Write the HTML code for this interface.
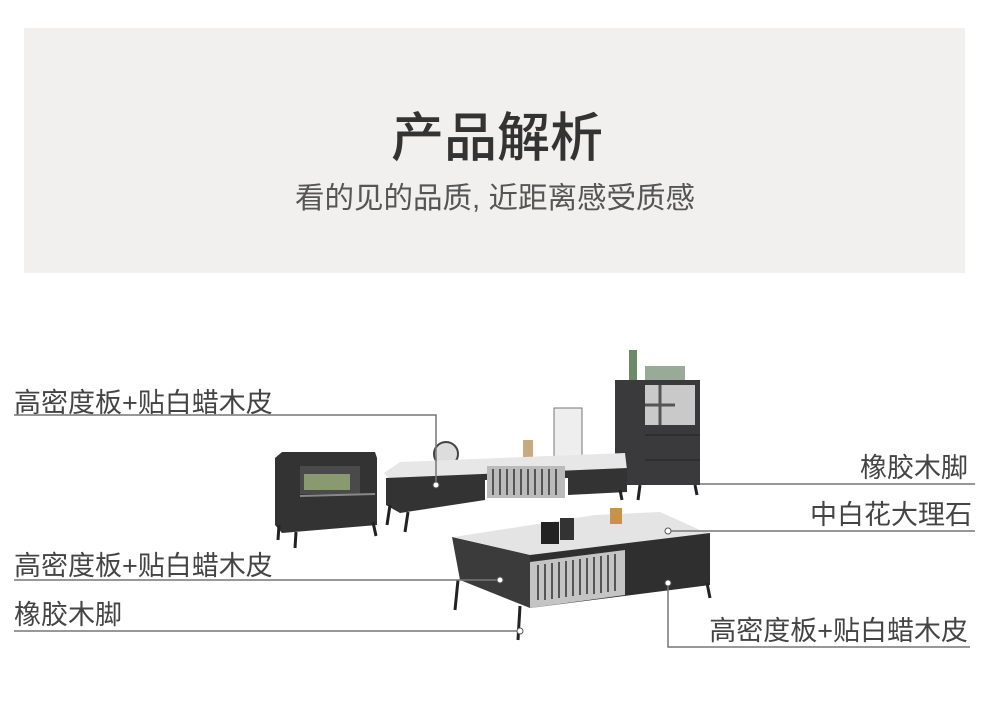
<!DOCTYPE html>
<html><head><meta charset="utf-8"><style>
body{margin:0;width:990px;height:710px;background:#fff;overflow:hidden}
svg{display:block}
text{font-family:"Liberation Sans","Noto Sans CJK SC",sans-serif}
</style></head><body>
<svg width="990" height="710" viewBox="0 0 990 710">
<rect x="24" y="28" width="941" height="245" fill="#f1f0ef"/>
<text x="497" y="156" font-size="53" font-weight="500" fill="#333" text-anchor="middle">产品解析</text>
<text x="495" y="208" font-size="29.5" fill="#555" text-anchor="middle">看的见的品质, 近距离感受质感</text>

<!-- tall cabinet -->
<rect x="629" y="350" width="8" height="30" fill="#6a8a6a"/>
<rect x="645" y="366" width="40" height="14" fill="#9a9"/>
<rect x="615" y="380" width="85" height="105" fill="#3a3a3c"/>
<rect x="645" y="385" width="50" height="40" fill="#c9c9c9"/>
<line x1="660" y1="385" x2="660" y2="425" stroke="#555" stroke-width="3"/>
<line x1="645" y1="405" x2="675" y2="405" stroke="#555" stroke-width="3"/>
<line x1="645" y1="435" x2="700" y2="435" stroke="#222"/>
<line x1="645" y1="460" x2="700" y2="460" stroke="#222"/>
<line x1="640" y1="485" x2="638" y2="500" stroke="#222" stroke-width="3"/>
<line x1="695" y1="485" x2="697" y2="495" stroke="#222" stroke-width="3"/>

<!-- tv stand -->
<rect x="554" y="408" width="28" height="50" fill="#eee" stroke="#777"/>
<circle cx="446" cy="454" r="12" fill="#ddd" stroke="#444" stroke-width="2"/>
<rect x="523" y="440" width="10" height="20" fill="#c9a982"/>
<polygon points="384,473 400,462 625,453 627,470 390,480" fill="#e7e7e7"/>
<polygon points="386,478 627,468 627,492 568,495 568,478 485,480 485,500 400,513 386,505" fill="#333"/>
<rect x="487" y="466" width="78" height="32" fill="#bbb"/>
<g stroke="#555" stroke-width="2">
<line x1="493" y1="469" x2="493" y2="495"/><line x1="500" y1="469" x2="500" y2="495"/><line x1="507" y1="469" x2="507" y2="495"/><line x1="514" y1="469" x2="514" y2="495"/><line x1="521" y1="469" x2="521" y2="495"/><line x1="528" y1="469" x2="528" y2="495"/><line x1="535" y1="469" x2="535" y2="495"/><line x1="542" y1="469" x2="542" y2="495"/><line x1="549" y1="469" x2="549" y2="495"/><line x1="556" y1="469" x2="556" y2="495"/></g>
<g stroke="#222" stroke-width="3"><line x1="390" y1="505" x2="387" y2="525"/><line x1="408" y1="512" x2="405" y2="532"/><line x1="620" y1="490" x2="622" y2="500"/></g>

<!-- nightstand -->
<polygon points="275,458 282,452 375,452 377,458 377,525 282,533 275,525" fill="#333"/>
<rect x="300" y="466" width="60" height="28" fill="#4a4a4a"/>
<rect x="304" y="474" width="46" height="16" fill="#8a9a70"/>
<line x1="300" y1="496" x2="375" y2="494" stroke="#888" stroke-width="2"/>
<g stroke="#222" stroke-width="3"><line x1="279" y1="525" x2="278" y2="540"/><line x1="296" y1="532" x2="295" y2="548"/><line x1="373" y1="522" x2="376" y2="536"/></g>

<!-- coffee table -->
<polygon points="454,537 595,515 660,512 700,530 710,533 530,555" fill="#e4e4e4"/>
<rect x="541" y="522" width="18" height="22" fill="#222"/>
<rect x="560" y="518" width="14" height="22" fill="#333"/>
<rect x="610" y="508" width="12" height="16" fill="#c9924a"/>
<polygon points="452,537 530,555 530,608 460,580" fill="#3b3b3b"/>
<polygon points="530,555 710,533 710,585 530,608" fill="#2f2f2f"/>
<polygon points="530,562 625,550 625,595 530,608" fill="#c4c4c4"/>
<g stroke="#555" stroke-width="2">
<line x1="538" y1="565" x2="538" y2="600"/><line x1="545" y1="564" x2="545" y2="600"/><line x1="552" y1="563" x2="552" y2="599"/><line x1="559" y1="562" x2="559" y2="598"/><line x1="566" y1="561" x2="566" y2="597"/><line x1="573" y1="560" x2="573" y2="596"/><line x1="580" y1="559" x2="580" y2="595"/><line x1="587" y1="558" x2="587" y2="594"/><line x1="594" y1="557" x2="594" y2="594"/><line x1="601" y1="556" x2="601" y2="593"/><line x1="608" y1="555" x2="608" y2="592"/><line x1="615" y1="554" x2="615" y2="591"/></g>
<g stroke="#222" stroke-width="3"><line x1="458" y1="580" x2="455" y2="610"/><line x1="520" y1="606" x2="518" y2="640"/><line x1="707" y1="583" x2="710" y2="598"/></g>

<!-- leader lines -->
<g stroke="#777" stroke-width="1.5" fill="none">
<polyline points="14,415 436,415 436,485"/>
<line x1="700" y1="484" x2="975" y2="484"/>
<line x1="668" y1="531" x2="975" y2="531"/>
<line x1="14" y1="580" x2="500" y2="580"/>
<line x1="14" y1="631" x2="520" y2="631"/>
<polyline points="668,583 668,647 970,647"/>
</g>
<g fill="#fff" stroke="#555"><circle cx="436" cy="485" r="3"/><circle cx="668" cy="531" r="3"/><circle cx="500" cy="580" r="3"/><circle cx="668" cy="583" r="3"/><circle cx="520" cy="631" r="3"/></g>

<g font-size="27" fill="#444">
<text x="14" y="412">高密度板+贴白蜡木皮</text>
<text x="968" y="477" text-anchor="end">橡胶木脚</text>
<text x="972" y="524" text-anchor="end">中白花大理石</text>
<text x="14" y="575">高密度板+贴白蜡木皮</text>
<text x="14" y="624">橡胶木脚</text>
<text x="968" y="640" text-anchor="end">高密度板+贴白蜡木皮</text>
</g>
</svg>
</body></html>
